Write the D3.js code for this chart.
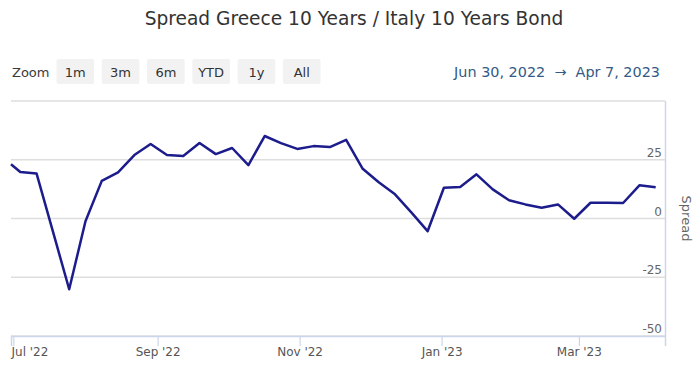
<!DOCTYPE html>
<html>
<head>
<meta charset="utf-8">
<script src="https://cdn.jsdelivr.net/npm/d3@7"></script>
<style>
  html, body { margin: 0; padding: 0; background: #fff; }
  svg { display: block; font-family: "DejaVu Sans", Verdana, sans-serif; }
</style>
</head>
<body>
<svg id="chart" width="700" height="382"></svg>
<script>
const titleText = "Spread Greece 10 Years / Italy 10 Years Bond";
const zoomButtons = ["1m", "3m", "6m", "YTD", "1y", "All"];
const rangeStart = "2022-06-30";
const rangeEnd = "2023-04-07";
const dates = [
  "2022-06-30", "2022-07-04", "2022-07-11", "2022-07-18", "2022-07-25",
  "2022-08-01", "2022-08-08", "2022-08-15", "2022-08-22", "2022-08-29",
  "2022-09-05", "2022-09-12", "2022-09-19", "2022-09-26", "2022-10-03",
  "2022-10-10", "2022-10-17", "2022-10-24", "2022-10-31", "2022-11-07",
  "2022-11-14", "2022-11-21", "2022-11-28", "2022-12-05", "2022-12-12",
  "2022-12-19", "2022-12-26", "2023-01-02", "2023-01-09", "2023-01-16",
  "2023-01-23", "2023-01-30", "2023-02-06", "2023-02-13", "2023-02-20",
  "2023-02-27", "2023-03-06", "2023-03-13", "2023-03-20", "2023-03-27",
  "2023-04-03"
];
const spread = [
  23.1, 19.8, 19.1, -5.5, -30.1,
  -1.2, 16.0, 19.6, 27.0, 31.7,
  27.0, 26.6, 32.1, 27.4, 30.0,
  22.7, 35.1, 32.1, 29.6, 30.8,
  30.4, 33.5, 21.3, 15.4, 10.3,
  2.6, -5.4, 13.1, 13.4, 18.8,
  12.4, 7.8, 6.0, 4.6, 6.0,
  -0.1, 6.7, 6.7, 6.6, 14.1,
  13.3
];
const yTicks = [-50, -25, 0, 25, 50];
const yTickLabels = ["-50", "-25", "0", "25", ""];
const xTickDates = ["2022-07-01", "2022-09-01", "2022-11-01", "2023-01-01", "2023-03-01"];
const xTickLabels = ["Jul '22", "Sep '22", "Nov '22", "Jan '23", "Mar '23"];
const yAxisTitle = "Spread";

const parse = d3.utcParse("%Y-%m-%d");
const data = dates.map((d, i) => ({ date: parse(d), value: spread[i] }));

const svg = d3.select("#chart");
const pLeft = 11, pRight = 665, pTop = 101, pBottom = 336;

const x = d3.scaleUtc().domain([parse(rangeStart), parse(rangeEnd)]).range([pLeft, pRight]);
const y = d3.scaleLinear().domain([-50, 50]).range([pBottom, pTop]);

// title
svg.append("text")
  .attr("x", 354).attr("y", 24.5)
  .attr("text-anchor", "middle")
  .attr("font-size", 18.6)
  .attr("fill", "#333333")
  .text(titleText);

// range selector
svg.append("text")
  .attr("x", 12).attr("y", 76.5)
  .attr("font-size", 13).attr("fill", "#3a3a3a")
  .text("Zoom");

const btnX = d3.scaleBand().domain(zoomButtons).range([56.5, 320.5]).paddingInner(0.17).paddingOuter(0);
const btn = svg.append("g").selectAll("g").data(zoomButtons).join("g")
  .attr("transform", d => `translate(${btnX(d)},59)`);
btn.append("rect")
  .attr("width", btnX.bandwidth()).attr("height", 25)
  .attr("rx", 2).attr("fill", "#f2f2f2");
btn.append("text")
  .attr("x", btnX.bandwidth() / 2).attr("y", 17.5)
  .attr("text-anchor", "middle")
  .attr("font-size", 13).attr("fill", "#333333")
  .text(d => d);

const fmt = d3.utcFormat("%b %-d, %Y");
svg.append("text")
  .attr("x", 660).attr("y", 77)
  .attr("text-anchor", "end")
  .attr("font-size", 14.4).attr("fill", "#335a85")
  .attr("xml:space", "preserve")
  .style("white-space", "pre")
  .text(fmt(parse(rangeStart)) + "  \u2192  " + fmt(parse(rangeEnd)));

// gridlines
svg.append("g").selectAll("line").data(yTicks).join("line")
  .attr("x1", pLeft).attr("x2", pRight)
  .attr("y1", d => y(d)).attr("y2", d => y(d))
  .attr("stroke", "#dedede").attr("stroke-width", 1.3);

// right border
svg.append("line")
  .attr("x1", pRight + 0.5).attr("x2", pRight + 0.5)
  .attr("y1", pTop).attr("y2", pBottom)
  .attr("stroke", "#ccd6eb").attr("stroke-width", 1.5);

// y labels
svg.append("g").selectAll("text").data(yTicks).join("text")
  .attr("x", pRight - 3).attr("y", d => y(d) - 3)
  .attr("text-anchor", "end")
  .attr("font-size", 12).attr("fill", "#666666")
  .text((d, i) => yTickLabels[i]);

// y axis title
svg.append("text")
  .attr("transform", `translate(682,${y(0)}) rotate(90)`)
  .attr("text-anchor", "middle")
  .attr("font-size", 13).attr("fill", "#666666")
  .text(yAxisTitle);

// x axis
const xTicks = xTickDates.map(parse);
const xAxis = d3.axisBottom(x).tickValues(xTicks).tickSize(10).tickFormat((d, i) => xTickLabels[i]);
const gx = svg.append("g").attr("transform", `translate(0,${pBottom})`).call(xAxis);
gx.select(".domain").attr("stroke", "#ccd6eb").attr("stroke-width", 1.5);
gx.selectAll(".tick line").attr("stroke", "#ccd6eb").attr("stroke-width", 1.2);
gx.selectAll(".tick text")
  .attr("font-family", "DejaVu Sans, sans-serif")
  .attr("font-size", 12).attr("fill", "#555555").attr("dy", "0.9em").attr("y", 9);
gx.selectAll(".tick text").each(function () {
  const bb = this.getBBox();
  const tx = x(d3.select(this.parentNode).datum());
  if (tx + bb.x < 10) d3.select(this).attr("x", 10 - (tx + bb.x));
});

// line
const line = d3.line().x(d => x(d.date)).y(d => y(d.value));
svg.append("path")
  .datum(data)
  .attr("d", line)
  .attr("fill", "none")
  .attr("stroke", "#1c1c8c")
  .attr("stroke-width", 2.5)
  .attr("stroke-linejoin", "round");
</script>
</body>
</html>
